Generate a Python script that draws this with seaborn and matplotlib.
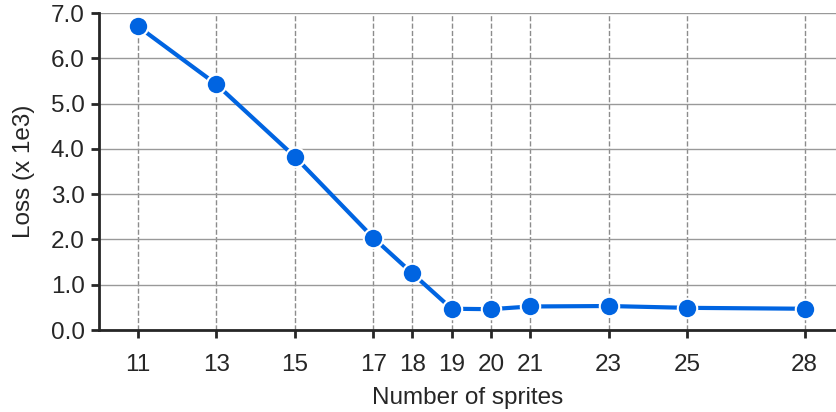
import numpy as np
import pandas as pd
import seaborn as sns
import matplotlib.pyplot as plt

sprites = [11, 13, 15, 17, 18, 19, 20, 21, 23, 25, 28]
loss_1e3 = [6.71, 5.43, 3.83, 2.04, 1.25, 0.47, 0.46, 0.52, 0.53, 0.49, 0.47]

df = pd.DataFrame({"sprites": sprites, "loss": loss_1e3})

sns.set_theme(style="ticks")
plt.rcParams["font.family"] = ["Liberation Sans", "DejaVu Sans"]

fig = plt.figure(figsize=(8.36, 4.12), dpi=100)
ax = fig.add_axes([0.118, 0.199, 0.882, 0.769])

sns.lineplot(data=df, x="sprites", y="loss", ax=ax, color="#0064e1",
             linewidth=3, marker="o", markersize=14,
             markeredgecolor="white", markeredgewidth=1.5, zorder=3)

ax.set_xlim(10, 28.8)
ax.set_ylim(0, 7)
ax.set_xticks(sprites)
ax.set_yticks(np.arange(0, 7.5, 1.0))
ax.set_yticklabels([f"{v:.1f}" for v in np.arange(0, 7.5, 1.0)])

ax.grid(axis="y", color="#999999", linestyle="-", linewidth=1)
ax.grid(axis="x", color="#8c8c8c", linestyle="--", linewidth=1)
ax.set_axisbelow(True)

sns.despine(ax=ax, top=True, right=True)
for s in ["left", "bottom"]:
    ax.spines[s].set_color("#262626")
    ax.spines[s].set_linewidth(2)
ax.tick_params(axis="both", colors="#262626", labelsize=17.5, length=6, width=2)
ax.tick_params(axis="x", pad=11)
ax.tick_params(axis="y", pad=4)

ax.set_xlabel("Number of sprites", fontsize=17.5, color="#262626", labelpad=8)
ax.set_ylabel("Loss (x 1e3)", fontsize=17.5, color="#262626", labelpad=11)

fig.savefig("out.png", dpi=100)
